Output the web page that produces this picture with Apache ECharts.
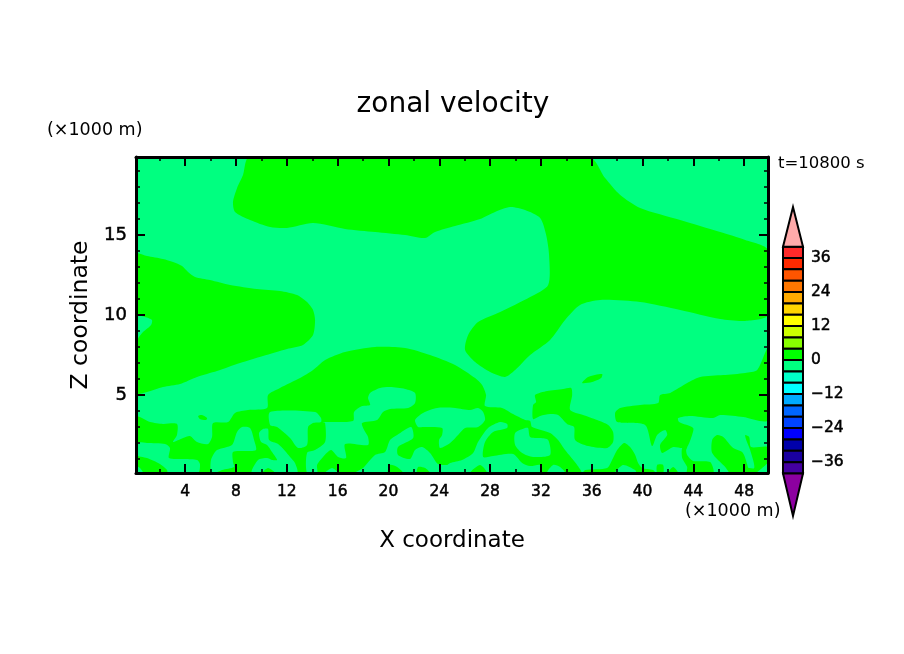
<!DOCTYPE html>
<html>
<head>
<meta charset="utf-8">
<title>zonal velocity</title>
<style>
  html, body { margin: 0; background: #fff; }
  #chart { width: 904px; height: 654px; }
</style>
<script src="https://cdn.jsdelivr.net/npm/echarts@6/dist/echarts.min.js"></script>
</head>
<body>
<div id="chart"></div>
<script>
// contour outlines of the 0..4 band, [x km, z km]
var topSweep = [[9.05,19.875],[8.55,18.75],[8.08,17.94],[7.76,17.06],[7.92,16.44],[9.1,15.94],[10.68,15.5],[12.01,15.44],[14.06,15.75],[16.58,15.38],[18.94,15.19],[21.31,15],[22.88,14.81],[23.67,15.19],[25.24,15.56],[27.21,16],[28.39,16.44],[29.57,16.75],[30.75,16.56],[31.94,16.06],[32.41,15],[32.64,13.75],[32.57,11.88],[31.15,11.13],[28.79,10.19],[27.05,9.56],[26.27,8.75],[26.03,7.81],[26.82,7.06],[28,6.44],[29.18,6.13],[29.97,6.56],[31.15,7.5],[32.72,8.44],[33.9,9.69],[35.08,10.63],[36.66,10.94],[39.81,10.81],[42.96,10.31],[46.11,9.75],[48.08,9.63],[49.875,10],[49.875,14.06],[48.08,14.69],[46.11,15.19],[42.96,15.94],[39.81,16.69],[38.24,17.5],[37.05,18.56],[35.8,19.875]];
var leftBlob = [[0.125,13.81],[0.99,13.69],[2.25,13.5],[3.04,13.31],[3.75,13.06],[4.22,12.69],[4.77,12.38],[5.95,12.19],[7.53,11.88],[9.65,11.63],[11.46,11.5],[12.8,11.25],[13.59,10.81],[14.06,10.31],[14.22,9.69],[14.06,8.75],[13.27,8.13],[12.01,7.88],[10.12,7.44],[8.31,7],[6.5,6.5],[4.93,6.13],[3.59,5.69],[2.25,5.5],[0.99,5.19],[0.125,5.13]];
var lowerMass = [[0.125,3.63],[1.23,3.31],[2.25,3.19],[3.35,3.19],[3.35,2.5],[3.04,2.06],[3.83,2.31],[4.38,2.44],[4.93,2.06],[5.79,1.94],[6.11,2.38],[6.19,3.25],[7.37,3.31],[7.92,3.88],[8.94,4.06],[10.44,4.19],[10.52,5],[11.46,5.44],[13.04,6.06],[14.06,6.56],[15.01,7.19],[16.58,7.69],[18.94,8],[21.31,7.94],[23.27,7.5],[25.24,6.88],[26.82,6.06],[27.37,5.63],[27.68,5],[27.6,4.31],[28.94,4.19],[29.81,3.81],[30.75,3.44],[31.15,3.38],[31.31,3],[32.72,2.63],[33.35,2.19],[33.9,1.56],[34.85,0.63],[35.16,0.125],[0.125,0.125]];
var midBlob = [[31.54,5],[32.49,5.25],[33.75,5.38],[34.38,5.44],[34.46,5],[34.3,4.06],[35.32,3.75],[36.42,3.44],[37.29,3.13],[37.68,2.69],[37.68,2.06],[37.21,1.69],[35.71,1.81],[34.69,2.19],[34.61,3],[34.06,3.19],[33.35,3.75],[32.72,3.81],[31.94,3.69],[31.38,3.5],[31.38,4.38],[31.62,4.56]];
var hillStrip = [[35.32,0.125],[35.48,0.31],[37.21,0.44],[37.6,0.94],[38,1.56],[38.55,2],[39.02,1.75],[39.42,1.25],[39.65,0.75],[39.97,0.44],[40.83,0.31],[40.99,0.125]];
var rightWedge = [[49.875,7.94],[49.02,6.56],[48.08,6.38],[46.35,6.25],[44.53,6.13],[43.51,5.75],[42.17,5.13],[41.38,5],[41.23,4.5],[39.81,4.38],[38.24,4.19],[37.84,3.88],[38,3.31],[40.2,3.13],[40.75,1.81],[41.15,2.5],[41.78,2.81],[41.94,2.5],[41.38,1.88],[41.54,1.38],[42.41,1.75],[43.12,1.69],[43.51,1.75],[43.9,2.5],[43.98,2.94],[42.88,3.31],[42.8,3.56],[43.74,3.69],[45.56,3.56],[46.11,3.75],[47.92,3.63],[49.875,3.44]];
var rightFoot = [[43.12,1.69],[43.12,1.06],[43.51,0.5],[43.51,0.125],[45.56,0.125],[45.32,0.81],[43.98,0.88],[43.51,1.25],[43.43,1.56],[43.51,1.75]];
var rightOval = [[45.48,2.19],[45.87,2.5],[46.35,2.38],[47.14,1.69],[47.84,1.44],[48.08,1.06],[48.32,0.125],[46.9,0.125],[46.51,0.5],[45.48,1.38]];
var rightCorner = [[48.08,2.5],[48.39,2.38],[48.55,1.75],[49.875,1.75],[49.875,0.81],[49.42,0.44],[48.87,0.125],[48.08,0.125],[48.08,0.44],[48.79,0.44],[48.47,1.56],[48.16,2.19]];

// holes of the -4..0 band cut out of the shapes above
var leftNotch = [[0.125,9.94],[0.83,9.88],[1.38,9.69],[1.31,9.38],[0.68,8.94],[0.36,8.63],[0.125,8.31]];
var leftPatch = [[0.125,2],[0.99,2],[2.41,1.94],[2.8,1.69],[2.72,1.06],[3.98,1],[4.93,0.94],[5.16,0.69],[5.01,0.125],[2.64,0.125],[2.57,0.31],[2.01,0.69],[0.99,1.06],[0.125,1.25]];
var leftCorner = [[0.125,0.56],[0.44,0.44],[0.68,0.125],[0.125,0.125]];
var hillPatch = [[6.03,0.125],[6.03,0.94],[6.5,1.56],[7.68,1.88],[8.08,2.69],[8.47,3],[9.1,2.94],[9.42,2.19],[9.57,1.56],[8.71,1.5],[7.76,1.44],[7.76,0.81],[7.84,0.5],[6.9,0.31],[6.35,0.125]];
var capPatch = [[10.68,3.94],[14.22,3.94],[14.69,3.56],[14.69,3.31],[14.06,3.25],[13.67,3],[13.59,1.88],[12.88,1.69],[12.25,2.31],[11.23,3],[10.68,3.13]];
var fingerPatch = [[9.81,2.63],[10.12,2.88],[10.52,2.88],[10.6,2.19],[11.31,1.94],[11.86,1.5],[12.25,1.13],[12.64,0.75],[12.8,0.125],[9.26,0.125],[9.73,0.94],[10.44,1.06],[10.83,0.94],[11.23,0.94],[10.83,1.44],[10.44,1.88],[9.97,2.06]];
var centrePatch = [[14.77,3.31],[17.21,3.38],[17.29,3.94],[17.92,4.31],[18.55,4.38],[18.39,4.81],[18.55,5.13],[19.34,5.44],[20.12,5.5],[21.31,5.38],[22.09,5.13],[22.09,4.5],[21.54,4.19],[20.12,4.13],[19.57,3.94],[19.1,3.44],[17.92,3.25],[18.08,2.81],[18.39,2.38],[18.39,1.88],[16.58,1.94],[16.66,1.06],[16.03,1.13],[15.48,1.56],[14.85,1.13],[14.38,0.63],[14.38,0.125],[13.59,0.125],[13.59,1.38],[14.22,1.56],[15.01,2.06],[15.01,3.25]];
var bottomBand = [[17.37,0.125],[18,0.44],[18.94,1.25],[19.73,1.44],[20.12,2.19],[20.68,2.5],[21.78,3],[21.94,2.31],[20.75,1.75],[20.75,1.25],[21.7,1],[22.09,1.56],[22.64,1.75],[23.27,1.38],[23.9,0.69],[24.61,0.63],[24.85,0.75],[25.79,0.94],[26.66,1.38],[27.05,2.06],[27.84,2.94],[28.79,3.31],[29.34,3.19],[29.34,2.94],[28.24,2.69],[27.6,2.06],[27.45,1.13],[28.24,1.19],[29.81,1.31],[30.52,0.75],[31.15,0.56],[31.94,0.63],[31.94,0.125]];
var armPatch = [[22.09,3.44],[22.72,3.88],[23.83,4.19],[25.24,4.19],[26.42,4.06],[27.05,4.19],[27.45,3.94],[27.6,3.44],[27.05,3],[26.03,2.94],[25.48,2.5],[24.85,2],[24.06,1.69],[23.98,2.19],[24.22,2.5],[24.22,2.94],[22.72,3],[22.33,3]];
var ovalPatch = [[29.97,2.63],[30.75,2.94],[30.99,2.94],[31.15,2.38],[31.94,2.31],[32.57,2.19],[32.72,1.25],[31.38,1.13],[30.52,1.38],[29.97,1.88]];
var domeA = [[15.01,0.125],[15.56,0.44],[16.03,0.125]];
var domeB = [[32.49,0.125],[32.96,0.63],[33.51,0.5],[33.9,0.125]];
var domeC = [[37.84,0.125],[38.47,0.63],[39.42,0.31],[39.5,0.125]];

// small islands of the 0..4 band on top of the holes
var isleHigh = [[35.24,5.75],[35.71,6.13],[36.82,6.31],[36.74,6.06],[36.03,5.81]];
var isleLeft = [[5.01,3.69],[5.32,3.75],[5.72,3.56],[5.64,3.44],[5.16,3.5]];
var nibA = [[10.05,0.125],[10.52,0.44],[11.07,0.125]];
var nibB = [[19.97,0.125],[20.12,0.63],[20.68,0.5],[21.15,0.125]];
var nibC = [[22.25,0.125],[22.33,0.5],[22.88,0.44],[23.27,0.125]];
var nibD = [[26.42,0.125],[27.21,0.63],[27.76,0.125]];
var nibE = [[41.15,0.125],[41.15,0.63],[41.62,0.63],[41.62,0.125]];
var nibF = [[42.01,0.125],[42.41,0.5],[42.8,0.125]];

// axes
var xMajor = [4, 8, 12, 16, 20, 24, 28, 32, 36, 40, 44, 48];
var xMinor = [2, 6, 10, 14, 18, 22, 26, 30, 34, 38, 42, 46];
var zMajor = [5, 10, 15];
var zMinor = [1, 2, 3, 4, 6, 7, 8, 9, 11, 12, 13, 14, 16, 17, 18, 19];

// colour bar: level every 4, labels every 12
var levelLows = [36, 32, 28, 24, 20, 16, 12, 8, 4, 0, -4, -8, -12, -16, -20, -24, -28, -32, -36, -40];
var levelColors = ["#ff2a2a", "#ff2a00", "#ff5500", "#ff7700", "#ffaa00", "#ffd500", "#ffff00", "#ccff00", "#88ff00", "#00ff00", "#00ff80", "#00ffc8", "#00ffff", "#00aaff", "#0066ff", "#0044ff", "#0000ff", "#0000aa", "#1a00a0", "#4400a0"];
var barLabels = [36, 24, 12, 0, -12, -24, -36];
var arrowBases = [40, -40];
var arrowTips = [54, -55];
var arrowColors = ["#ffaaaa", "#8c00a0"];

(function () {
  "use strict";

  var GREEN = "#00ff00", MINT = "#00ff80", FONT = "DejaVu Sans";
  var zones = [];
  [topSweep, leftBlob, lowerMass, midBlob, hillStrip, rightWedge, rightFoot, rightOval, rightCorner].forEach(function (p) { zones.push({ points: p, fill: GREEN }); });
  [leftNotch, leftPatch, leftCorner, hillPatch, capPatch, fingerPatch, centrePatch, bottomBand, armPatch, ovalPatch, domeA, domeB, domeC].forEach(function (p) { zones.push({ points: p, fill: MINT }); });
  [isleHigh, isleLeft, nibA, nibB, nibC, nibD, nibE, nibF].forEach(function (p) { zones.push({ points: p, fill: GREEN }); });

  function edgeAxis(position, min, max, major, minor, isX, withLabels, name) {
    var ax = [{
      type: "value", position: position, min: min, max: max, gridIndex: 0, z: 10,
      splitLine: { show: false },
      axisLine: { show: true, onZero: false, lineStyle: { color: "#000", width: 3 } },
      axisTick: { show: true, inside: true, length: 9, customValues: major, lineStyle: { color: "#000", width: 2 } },
      axisLabel: withLabels
        ? {
            show: true, customValues: major, color: "#000", fontFamily: FONT, fontSize: isX ? 15.5 : 18,
            textBorderColor: "#000", textBorderWidth: 0.5,
            margin: isX ? 11 : 9, padding: isX ? 0 : [4, 0, 0, 0]
          }
        : { show: false }
    }, {
      type: "value", position: position, min: min, max: max, gridIndex: 0, z: 10,
      splitLine: { show: false },
      axisLine: { show: false, onZero: false },
      axisTick: { show: true, inside: true, length: 4, customValues: minor, lineStyle: { color: "#000", width: 1.5 } },
      axisLabel: { show: false }
    }];
    if (name) {
      ax[0].name = name;
      ax[0].nameLocation = "middle";
      ax[0].nameGap = isX ? 57 : 37;
      ax[0].nameTextStyle = { color: "#000", fontFamily: FONT, fontSize: isX ? 23 : 23.5 };
    }
    return ax;
  }

  function note(text, x, y, size) {
    return { type: "text", x: x, y: y, style: { text: text, fill: "#000", font: size + "px '" + FONT + "'", textVerticalAlign: "middle" } };
  }

  var chart = echarts.init(document.getElementById("chart"));
  var xMin = 0.125, xMax = 49.875, zMin = 0.125, zMax = 19.875;

  var xAxes = edgeAxis("bottom", xMin, xMax, xMajor, xMinor, true, true, "X coordinate")
    .concat(edgeAxis("top", xMin, xMax, xMajor, xMinor, true, false));
  var yAxes = edgeAxis("left", zMin, zMax, zMajor, zMinor, false, true, "Z coordinate")
    .concat(edgeAxis("right", zMin, zMax, zMajor, zMinor, false, false));

  xAxes.push({ type: "value", gridIndex: 1, min: 0, max: 1, show: false });
  yAxes.push({
    type: "value", gridIndex: 1, position: "right", min: -55, max: 54,
    splitLine: { show: false }, axisLine: { show: false }, axisTick: { show: false },
    axisLabel: {
      show: true, customValues: barLabels, color: "#000", fontFamily: FONT, fontSize: 15.5, margin: 8, align: "left", padding: [2, 0, 0, 0],
      textBorderColor: "#000", textBorderWidth: 0.5,
      formatter: function (v) { return String(v).replace("-", "\u2212"); }
    }
  });

  chart.setOption({
    animation: false,
    backgroundColor: "#fff",
    title: {
      text: "zonal velocity", left: 448, top: 86, textAlign: "center",
      textStyle: { color: "#000", fontFamily: FONT, fontWeight: "normal", fontSize: 28 }
    },
    grid: [
      { left: 136, top: 157, width: 632, height: 316, show: true, backgroundColor: MINT, borderWidth: 0 },
      { left: 783, top: 207, width: 20, height: 309 }
    ],
    xAxis: xAxes,
    yAxis: yAxes,
    graphic: [
      note("(\u00d71000 m)", 47, 130, 17.5),
      note("(\u00d71000 m)", 685, 511, 17.5),
      note("t=10800 s", 778, 164, 16.5)
    ],
    series: [{
      type: "custom", xAxisIndex: 0, yAxisIndex: 0, silent: true, clip: true,
      data: zones.map(function (z, i) { return [i]; }),
      encode: { x: 0 },
      renderItem: function (params, api) {
        var zone = zones[params.dataIndex];
        return {
          type: "polygon",
          shape: { points: zone.points.map(function (p) { return api.coord(p); }), smooth: 0.25 },
          style: { fill: zone.fill }
        };
      }
    }, {
      type: "custom", xAxisIndex: 4, yAxisIndex: 4, silent: true,
      data: levelLows.map(function (low, i) { return [low, low + 4, i]; }),
      encode: { y: [0, 1] },
      renderItem: function (params, api) {
        var a = api.coord([0, api.value(1)]), b = api.coord([1, api.value(0)]);
        return {
          type: "rect",
          shape: { x: a[0], y: a[1], width: b[0] - a[0], height: b[1] - a[1] },
          style: { fill: levelColors[api.value(2)], stroke: "#000", lineWidth: 2 }
        };
      }
    }, {
      type: "custom", xAxisIndex: 4, yAxisIndex: 4, silent: true,
      data: arrowBases.map(function (base, i) { return [base, arrowTips[i]]; }),
      encode: { y: [0, 1] },
      renderItem: function (params, api) {
        return {
          type: "polygon",
          shape: { points: [api.coord([0, api.value(0)]), api.coord([1, api.value(0)]), api.coord([0.5, api.value(1)])] },
          style: { fill: arrowColors[params.dataIndex], stroke: "#000", lineWidth: 2 }
        };
      }
    }]
  });
})();
</script>
</body>
</html>
